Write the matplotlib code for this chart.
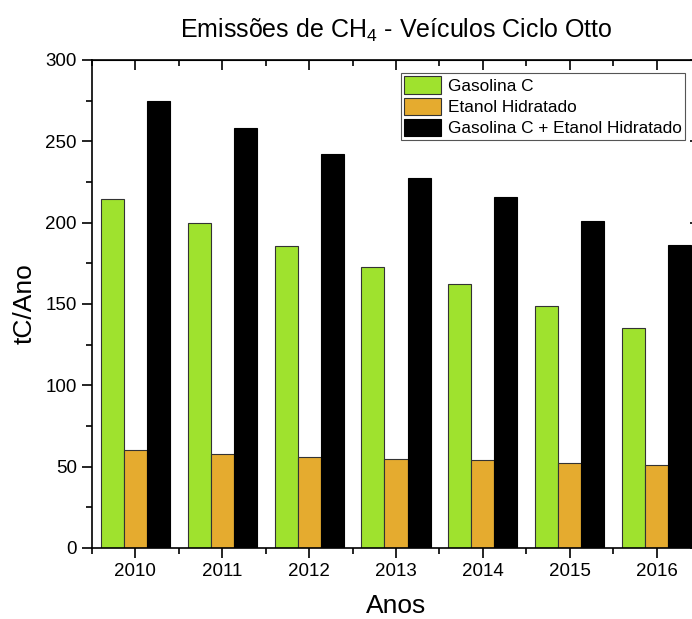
import matplotlib
matplotlib.use("Agg")
import matplotlib.pyplot as plt
import numpy as np
from matplotlib.ticker import MultipleLocator

plt.rcParams['font.family'] = ['Liberation Sans', 'DejaVu Sans']
plt.rcParams['mathtext.fontset'] = 'custom'
plt.rcParams['mathtext.rm'] = 'Liberation Sans'
plt.rcParams['mathtext.it'] = 'Liberation Sans'
plt.rcParams['mathtext.default'] = 'regular'

anos = [2010, 2011, 2012, 2013, 2014, 2015, 2016]
gasolina = [214.5, 200.0, 185.5, 172.5, 162.0, 148.5, 135.5]
etanol = [60.0, 58.0, 56.0, 55.0, 54.0, 52.5, 51.0]
total = [275.0, 258.5, 242.0, 227.5, 216.0, 201.0, 186.5]
labels = ['Gasolina C', 'Etanol Hidratado', 'Gasolina C + Etanol Hidratado']
cores = ['#9fe22e', '#e5ab2f', '#000000']

fig = plt.figure(figsize=(6.92, 6.19), dpi=100)
ax = fig.add_axes([92/692, 1-548/619, 608/692, 488/619])

x = np.array(anos)
w = 0.265
ax.bar(x - w, gasolina, w, color=cores[0], edgecolor='#333333', linewidth=0.8, label=labels[0])
ax.bar(x, etanol, w, color=cores[1], edgecolor='#333333', linewidth=0.8, label=labels[1])
ax.bar(x + w, total, w, color=cores[2], edgecolor='#000000', linewidth=0.8, label=labels[2])

ax.set_xlim(2009.5, 2016.5)
ax.set_ylim(0, 300)
ax.set_xticks(anos)
ax.xaxis.set_minor_locator(MultipleLocator(0.5))
ax.yaxis.set_major_locator(MultipleLocator(50))
ax.yaxis.set_minor_locator(MultipleLocator(25))
ax.tick_params(which='major', direction='out', length=7, width=1.2, labelsize=13.5,
               colors='black', pad=4)
ax.tick_params(which='minor', direction='out', length=4, width=1.2)
for s in ax.spines.values():
    s.set_linewidth(1.2)

# top and right ticks point inwards
top = ax.secondary_xaxis('top')
top.set_xticks(anos)
top.xaxis.set_minor_locator(MultipleLocator(0.5))
top.tick_params(which='major', direction='in', length=7, width=1.2, labeltop=False)
top.tick_params(which='minor', direction='in', length=4, width=1.2)
right = ax.secondary_yaxis('right')
right.yaxis.set_major_locator(MultipleLocator(50))
right.yaxis.set_minor_locator(MultipleLocator(25))
right.tick_params(which='major', direction='in', length=7, width=1.2, labelright=False)
right.tick_params(which='minor', direction='in', length=4, width=1.2)

ax.set_xlabel('Anos', fontsize=19, labelpad=10)
ax.set_ylabel('tC/Ano', fontsize=19, labelpad=6)
ax.set_title('Emissões de CH$_4$ - Veículos Ciclo Otto', fontsize=18, pad=16)

leg = ax.legend(loc='upper left', bbox_to_anchor=(401/692, 1-73/619),
                bbox_transform=fig.transFigure, fontsize=12.4, frameon=True,
                fancybox=False, edgecolor='#555555', framealpha=1,
                handlelength=2.15, handleheight=1.2, labelspacing=0.2,
                borderpad=0.2, handletextpad=0.35, borderaxespad=0)
leg.get_frame().set_linewidth(0.8)

fig.savefig('out.png', dpi=100)
